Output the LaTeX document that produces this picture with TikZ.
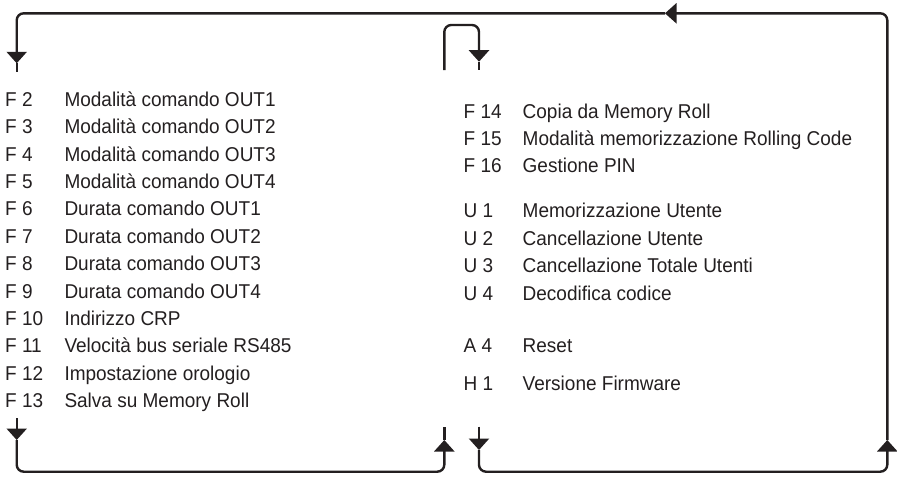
\documentclass[tikz,border=0pt]{standalone}
\usepackage{fontspec}
\setmainfont{Liberation Sans}[FakeStretch=0.95]
\usetikzlibrary{arrows.meta}
\definecolor{ink}{RGB}{35,31,32}
\begin{document}
\begin{tikzpicture}[x=1pt,y=-1pt,
  flow/.style={draw=ink,line width=2.4pt,rounded corners=7pt},
  arr/.style={flow,-{Triangle[width=20pt,length=11.5pt]}},
  code/.style={anchor=base west,inner sep=0pt,font=\fontsize{20}{23}\selectfont,text=ink},
  ]
\useasboundingbox (0,0) rectangle (897,477);
% coordinates of the loops
\coordinate (tl) at (16.7,13.3);
\coordinate (tr) at (887.3,13.3);
\coordinate (topArr) at (665,13.3);
\coordinate (tlTip) at (16.7,63.3);
\coordinate (tlEnd) at (16.7,71.7);
\coordinate (rTip) at (887.3,440);
\coordinate (br) at (887.3,471.7);
\coordinate (mbrTop) at (479,426.7);
\coordinate (mbrTip) at (479,450);
\coordinate (mbrCorner) at (479,471.7);
\coordinate (mtlBot) at (444.3,70);
\coordinate (mtlTop) at (444.3,25);
\coordinate (mtrTop) at (479,25);
\coordinate (mtrTip) at (479,61.7);
\coordinate (mtrEnd) at (479,70);
\coordinate (blTop) at (16.7,418);
\coordinate (blTip) at (16.7,440);
\coordinate (bl) at (16.7,471.7);
\coordinate (mblCorner) at (444.3,471.7);
\coordinate (mblTip) at (444.3,440);
\coordinate (mblTop) at (444.3,426.7);

% right loop
\draw[arr] (mbrTop) -- (mbrTip);
\draw[arr] (mbrTip) -- (mbrCorner) -- (br) -- (rTip);
\draw[arr] (rTip) -- (tr) -- (topArr);
\draw[arr] (topArr) -- (tl) -- (tlTip);
\draw[flow] (tlTip) -- (tlEnd);
% middle top
\draw[arr] (mtlBot) -- (mtlTop) -- (mtrTop) -- (mtrTip);
\draw[flow] (mtrTip) -- (mtrEnd);
% bottom left
\draw[arr] (blTop) -- (blTip);
\draw[arr] (blTip) -- (bl) -- (mblCorner) -- (mblTip);
\draw[flow] (mblTip) -- (mblTop);

% left column
\foreach \lab/\txt [count=\k from 0] in {
  F 2/Modalità comando OUT1,
  F 3/Modalità comando OUT2,
  F 4/Modalità comando OUT3,
  F 5/Modalità comando OUT4,
  F 6/Durata comando OUT1,
  F 7/Durata comando OUT2,
  F 8/Durata comando OUT3,
  F 9/Durata comando OUT4,
  F 10/Indirizzo CRP,
  F 11/Velocità bus seriale RS485,
  F 12/Impostazione orologio,
  F 13/Salva su Memory Roll}
{
  \node[code] (lc\k) at (5,106.3+27.4*\k) {\lab};
  \node[code] (ld\k) at (64.3,106.3+27.4*\k) {\txt};
}
% right column
\foreach \lab/\txt/\yy [count=\k] in {
  F 14/Copia da Memory Roll/118.6,
  F 15/Modalità memorizzazione Rolling Code/145.3,
  F 16/Gestione PIN/172,
  U 1/Memorizzazione Utente/217,
  U 2/Cancellazione Utente/245,
  U 3/Cancellazione Totale Utenti/272.6,
  U 4/Decodifica codice/300.3,
  A 4/Reset/352,
  H 1/Versione Firmware/390}
{
  \node[code] (rc\k) at (463.5,\yy) {\lab};
  \node[code] (rd\k) at (522.5,\yy) {\txt};
}
\end{tikzpicture}
\end{document}
